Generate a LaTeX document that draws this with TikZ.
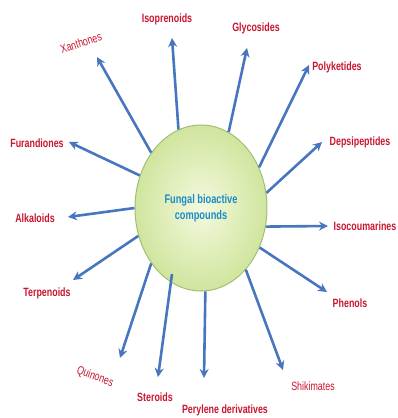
\documentclass[tikz,border=0pt]{standalone}
\usepackage{fontspec}
\setmainfont{Liberation Sans}[FakeStretch=0.74]
\usetikzlibrary{arrows.meta,shapes.geometric}
\definecolor{lblred}{RGB}{200,22,48}
\definecolor{arrblue}{RGB}{72,118,190}
\definecolor{ctrblue}{RGB}{28,140,200}
\definecolor{ellfill}{RGB}{208,229,158}
\definecolor{ellin}{RGB}{244,249,222}
\definecolor{ellborder}{RGB}{160,192,115}
\begin{document}
\begin{tikzpicture}[x=1pt,y=-1pt,
  lbl/.style={font=\fontsize{12}{12}\selectfont\bfseries, text=lblred, inner sep=0pt},
  lbllight/.style={font=\fontsize{12}{12}\selectfont, text=lblred, inner sep=0pt},
  arr/.style={draw=arrblue, line width=2.6pt, -{Stealth[length=9pt,width=9pt]}},
  hub/.style={ellipse, minimum width=132pt, minimum height=166pt, inner sep=0pt,
    draw=ellborder, line width=1pt, inner color=ellin, outer color=ellfill,
    align=center, text=ctrblue, font=\fontsize{12.5}{16}\selectfont\bfseries}
]
\useasboundingbox (0,0) rectangle (397,418);
\node[hub] (c) at (201,208) {Fungal bioactive\\compounds};

% labels
\node[lbl] (iso) at (167,19) {Isoprenoids};
\node[lbllight, rotate=18] (xan) at (81,43) {Xanthones};
\node[lbl] (gly) at (256,28) {Glycosides};
\node[lbl] (pol) at (337,67) {Polyketides};
\node[lbl] (dep) at (360,142) {Depsipeptides};
\node[lbl] (isc) at (365,226) {Isocoumarines};
\node[lbl] (phe) at (350,303) {Phenols};
\node[lbllight] (shi) at (313,386) {Shikimates};
\node[lbl] (per) at (225,410) {Perylene derivatives};
\node[lbl] (ste) at (155,397) {Steroids};
\node[lbllight, rotate=-20] (qui) at (95,377) {Quinones};
\node[lbl] (ter) at (47,293) {Terpenoids};
\node[lbl] (alk) at (35,218) {Alkaloids};
\node[lbl] (fur) at (37,143) {Furandiones};

% arrow tips
\coordinate (tIso) at (172,38);
\coordinate (tXan) at (97,57);
\coordinate (tGly) at (247,48);
\coordinate (tPol) at (309,65);
\coordinate (tDep) at (322,142);
\coordinate (tIsc) at (328,226);
\coordinate (tPhe) at (327,292);
\coordinate (tShi) at (283,370);
\coordinate (tPer) at (204,378);
\coordinate (tSte) at (158,377);
\coordinate (tQui) at (120,358);
\coordinate (tTer) at (73,280);
\coordinate (tAlk) at (68,217);
\coordinate (tFur) at (69,142);
\coordinate (sSte) at (172,274);

\draw[arr] (c.106.8) -- (tIso);
\draw[arr] (c.132.8) -- (tXan);
\draw[arr] (c.70.8) -- (tGly);
\draw[arr] (c.35.5) -- (tPol);
\draw[arr] (c.13) -- (tDep);
\draw[arr] (c.-16.5) -- (tIsc);
\draw[arr] (c.-34.4) -- (tPhe);
\draw[arr] (c.-54.6) -- (tShi);
\draw[arr] (c.-87) -- (tPer);
\draw[arr] (sSte) -- (tSte);
\draw[arr] (c.-132.8) -- (tQui);
\draw[arr] (c.-156) -- (tTer);
\draw[arr] (c.180) -- (tAlk);
\draw[arr] (c.152) -- (tFur);
\end{tikzpicture}
\end{document}
